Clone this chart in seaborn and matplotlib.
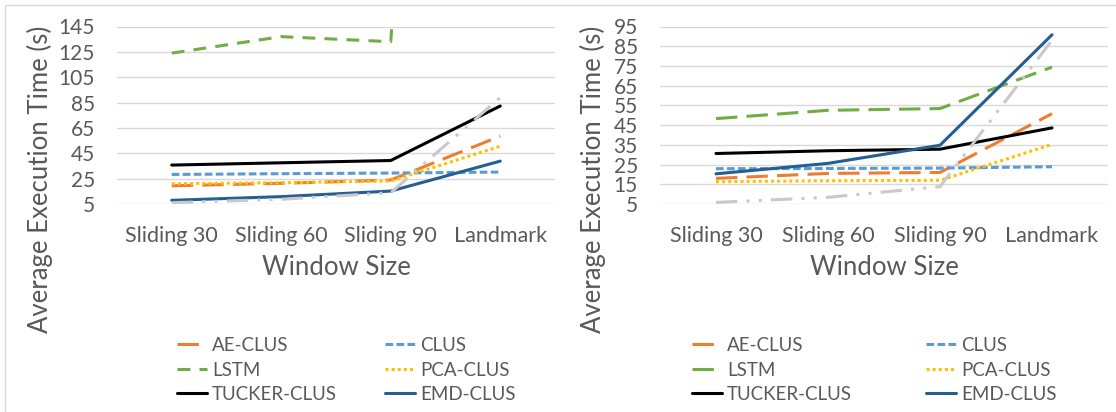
import numpy as np
import pandas as pd
import seaborn as sns
import matplotlib.pyplot as plt
from matplotlib.lines import Line2D
from matplotlib.patches import Rectangle

# --- data ---
windows = ["Sliding 30", "Sliding 60", "Sliding 90", "Landmark"]
methods = ["AE-CLUS", "CLUS", "LSTM", "PCA-CLUS", "TUCKER-CLUS", "EMD-CLUS", "Other"]

# left chart (LSTM landmark runs far off the top of the axis)
left_ae = [19.4, 21.3, 23.9, 58.5]
left_clus = [28.3, 28.9, 29.4, 30.2]
left_lstm = [124, 137, 133, 1400]
left_pca = [21.0, 21.8, 23.1, 50.6]
left_tucker = [35.7, 37.5, 39.3, 82.3]
left_emd = [7.9, 10.8, 15.2, 38.8]
left_other = [6.0, 8.7, 13.9, 89.0]

# right chart
right_ae = [18.0, 20.5, 21.0, 50.8]
right_clus = [22.9, 23.0, 23.2, 23.9]
right_lstm = [48.3, 52.5, 53.4, 74.4]
right_pca = [16.3, 16.8, 17.0, 35.2]
right_tucker = [30.6, 32.0, 32.8, 43.6]
right_emd = [20.3, 25.6, 34.8, 90.8]
right_other = [5.8, 8.4, 13.8, 88.0]

left_yticks = [5, 25, 45, 65, 85, 105, 125, 145]
right_yticks = [5, 15, 25, 35, 45, 55, 65, 75, 85, 95]

colors = {
    "AE-CLUS": "#ED7D31",
    "CLUS": "#5B9BD5",
    "LSTM": "#70AD47",
    "PCA-CLUS": "#FFC000",
    "TUCKER-CLUS": "#000000",
    "EMD-CLUS": "#255E91",
    "Other": "#C9C9C9",
}
left_dashes = {
    "AE-CLUS": (7, 3),
    "CLUS": (2.5, 1.1),
    "LSTM": (4.2, 3),
    "PCA-CLUS": (1, 1),
    "TUCKER-CLUS": "",
    "EMD-CLUS": "",
    "Other": (7, 3, 1, 3, 1, 3),
}
right_dashes = dict(left_dashes, LSTM=(7, 3))

TEXT = "#595959"
GRID = "#D9D9D9"
LW = 2.2


def long_frame(series):
    rows = []
    for m, vals in zip(methods, series):
        for w, v in zip(windows, vals):
            rows.append({"window": w, "method": m, "time": v})
    return pd.DataFrame(rows)


left_df = long_frame([left_ae, left_clus, left_lstm, left_pca, left_tucker, left_emd, left_other])
right_df = long_frame([right_ae, right_clus, right_lstm, right_pca, right_tucker, right_emd, right_other])

sns.set_style("white")
plt.rcParams["font.family"] = ["Lato", "DejaVu Sans"]

W, H = 1116, 412
fig = plt.figure(figsize=(W / 100, H / 100), dpi=100)


def px_axes(x0, x1, y_top, y_bot):
    return fig.add_axes([x0 / W, 1 - y_bot / H, (x1 - x0) / W, (y_bot - y_top) / H])


def draw_panel(ax, df, dashes, yticks, ylab_x):
    sns.lineplot(data=df, x="window", y="time", hue="method", style="method",
                 hue_order=methods, style_order=methods, palette=colors,
                 dashes=dashes, linewidth=LW, sort=False, legend=False, ax=ax)
    ax.set_xlim(-0.5, 3.5)
    ax.set_ylim(yticks[0], yticks[-1])
    ax.set_yticks(yticks)
    ax.grid(axis="y", color=GRID, linewidth=1)
    ax.grid(axis="x", visible=False)
    for s in ax.spines.values():
        s.set_visible(False)
    ax.tick_params(axis="y", length=0, pad=16, labelsize=15, labelcolor=TEXT)
    ax.tick_params(axis="x", length=0, pad=16, labelsize=15.5, labelcolor=TEXT)
    ax.set_xlabel("Window Size", fontsize=18.5, color=TEXT)
    ax.xaxis.set_label_coords(0.5, -0.36)
    ax.xaxis.label.set_va("center")
    ax.set_ylabel("Average Execution Time (s)", fontsize=18.5, color=TEXT)
    ax.yaxis.set_label_coords(ylab_x, 0.14)
    ax.yaxis.label.set_va("center")


def add_legend(names, dashes, x_px):
    handles = []
    for n in names:
        h = Line2D([], [], color=colors[n], linewidth=LW)
        if dashes[n]:
            h.set_dashes(dashes[n])
        handles.append(h)
    fs = 13.5
    fs_px = fs * 100 / 72
    fig.legend(handles, names, loc="center left",
               bbox_to_anchor=(x_px / W, 1 - 370 / H),
               frameon=False, fontsize=fs,
               handlelength=30 / fs_px, handletextpad=5 / fs_px,
               borderpad=0, borderaxespad=0, labelspacing=0.4, labelcolor=TEXT)


ax1 = px_axes(117, 555, 26.5, 204)
draw_panel(ax1, left_df, left_dashes, left_yticks, (40 - 117) / 438)
add_legend(["AE-CLUS", "LSTM", "TUCKER-CLUS"], left_dashes, 177)
add_legend(["CLUS", "PCA-CLUS", "EMD-CLUS"], left_dashes, 385)

ax2 = px_axes(660, 1108, 26.5, 204)
draw_panel(ax2, right_df, right_dashes, right_yticks, (593 - 660) / 448)
add_legend(["AE-CLUS", "LSTM", "TUCKER-CLUS"], right_dashes, 692)
add_legend(["CLUS", "PCA-CLUS", "EMD-CLUS"], right_dashes, 926)

# light chart-area border (top and left edges)
fig.add_artist(Rectangle((5 / W, -0.5), 2, 1.5 - 5 / H, transform=fig.transFigure,
                         fill=False, edgecolor=GRID, linewidth=1))

fig.savefig("out.png", dpi=100)
